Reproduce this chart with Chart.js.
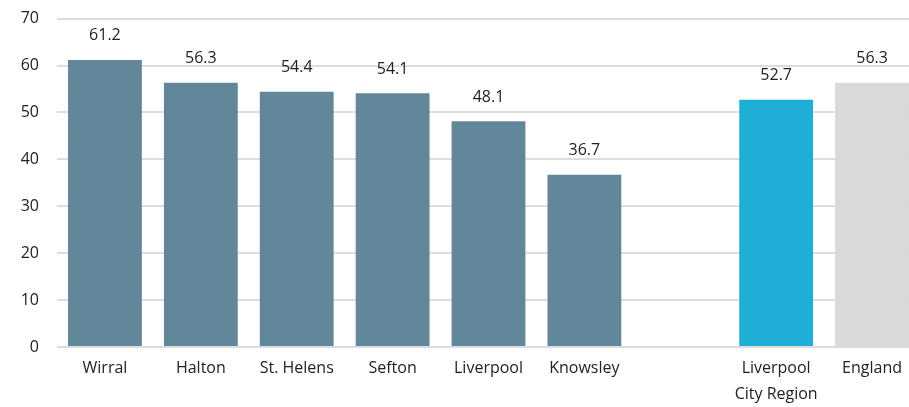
<!DOCTYPE html>
<html>
<head>
<meta charset="utf-8">
<script src="https://cdn.jsdelivr.net/npm/chart.js@4"></script>
<style>
  html, body { margin: 0; padding: 0; background: #fff; overflow: hidden; }
  #wrap { width: 920px; height: 416px; position: absolute; left: 0; top: -9px; }
</style>
</head>
<body>
<div id="wrap"><canvas id="c"></canvas></div>
<script>
const categories = ["Wirral", "Halton", "St. Helens", "Sefton", "Liverpool", "Knowsley", "", ["Liverpool", "City Region"], "England"];
const values = [61.2, 56.3, 54.4, 54.1, 48.1, 36.7, null, 52.7, 56.3];
const barColors = ["#62879a", "#62879a", "#62879a", "#62879a", "#62879a", "#62879a", "#62879a", "#1fafd6", "#d9d9d9"];
const yTicks = [0, 10, 20, 30, 40, 50, 60, 70];

const FONT = "'Open Sans', Lato, sans-serif";

const valueLabels = {
  id: "valueLabels",
  afterDatasetsDraw(chart) {
    const ctx = chart.ctx;
    const meta = chart.getDatasetMeta(0);
    ctx.save();
    ctx.font = "16px " + FONT;
    ctx.fillStyle = "#222";
    ctx.textAlign = "center";
    ctx.textBaseline = "middle";
    meta.data.forEach((bar, i) => {
      const v = values[i];
      if (v === null || v === undefined) return;
      ctx.fillText(v.toFixed(1), bar.x, bar.y - 24);
    });
    ctx.restore();
  }
};

new Chart(document.getElementById("c"), {
  type: "bar",
  data: {
    labels: categories,
    datasets: [{
      data: values,
      backgroundColor: barColors,
      categoryPercentage: 1,
      barPercentage: 0.77
    }]
  },
  options: {
    responsive: true,
    maintainAspectRatio: false,
    animation: false,
    layout: { padding: { top: 6, bottom: 0, left: 0, right: 0 } },
    plugins: { legend: { display: false }, tooltip: { enabled: false } },
    scales: {
      x: {
        grid: { display: false },
        border: { display: false },
        ticks: { color: "#222", font: { family: FONT, size: 16, lineHeight: 1.6 }, padding: 1, maxRotation: 0, autoSkip: false },
        afterFit(scale) { scale.height = 60; }
      },
      y: {
        min: 0, max: 70,
        afterBuildTicks(scale) { scale.ticks = yTicks.map(v => ({ value: v })); },
        grid: { color: "#dddddd", lineWidth: 2, drawTicks: false },
        border: { display: false },
        ticks: { color: "#222", font: { family: FONT, size: 16 }, padding: 18 },
        afterFit(scale) { scale.width = 57; }
      }
    }
  },
  plugins: [valueLabels]
});
</script>
</body>
</html>
